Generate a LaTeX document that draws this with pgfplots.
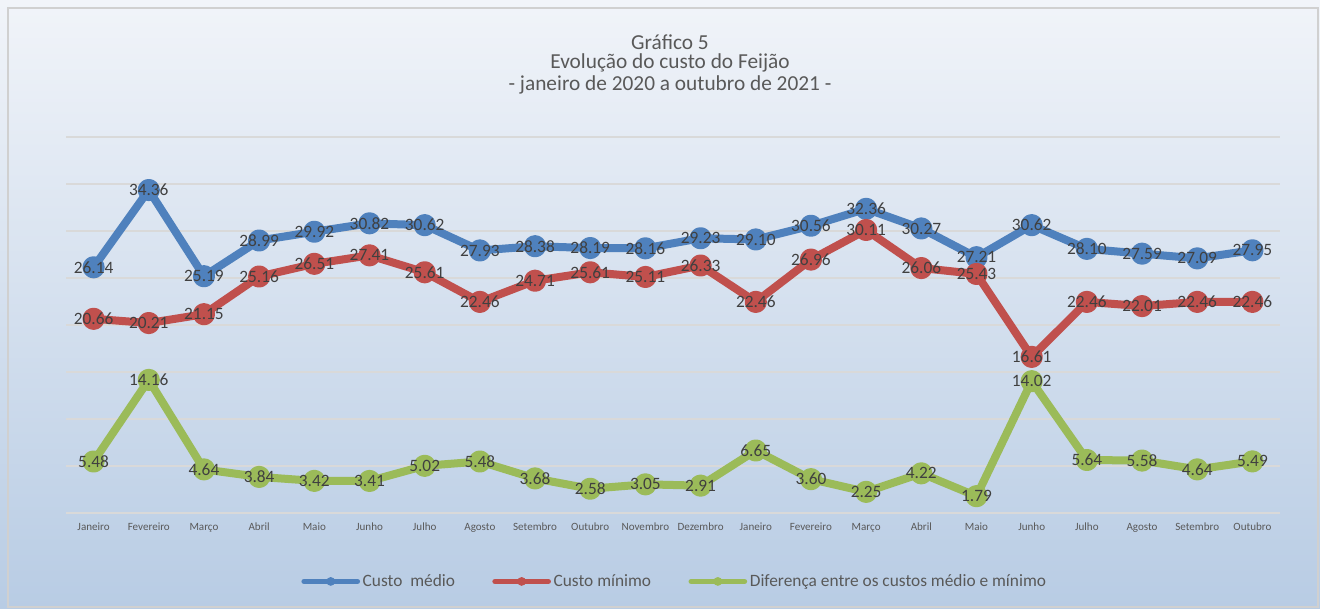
\documentclass[border=0pt]{standalone}
\usepackage{pgfplots}
\usepackage{pgfplotstable}
\pgfplotsset{compat=1.18}
\usepackage{fontspec}
\setmainfont{Carlito}
\definecolor{cblue}{HTML}{4F81BD}
\definecolor{cred}{HTML}{C0504D}
\definecolor{cgreen}{HTML}{9BBB59}
\definecolor{bgtop}{HTML}{F1F4F9}
\definecolor{bgbot}{HTML}{B8CCE4}
\definecolor{gridc}{HTML}{D9D9D9}
\definecolor{framec}{HTML}{D0D0D0}
\definecolor{titlec}{HTML}{595959}
\definecolor{labelc}{HTML}{404040}

\pgfplotstableread{
x medio minimo dif
0 26.14 20.66 5.48
1 34.36 20.21 14.16
2 25.19 21.15 4.64
3 28.99 25.16 3.84
4 29.92 26.51 3.42
5 30.82 27.41 3.41
6 30.62 25.61 5.02
7 27.93 22.46 5.48
8 28.38 24.71 3.68
9 28.19 25.61 2.58
10 28.16 25.11 3.05
11 29.23 26.33 2.91
12 29.10 22.46 6.65
13 30.56 26.96 3.60
14 32.36 30.11 2.25
15 30.27 26.06 4.22
16 27.21 25.43 1.79
17 30.62 16.61 14.02
18 28.10 22.46 5.64
19 27.59 22.01 5.58
20 27.09 22.46 4.64
21 27.95 22.46 5.49
}\data

\newcommand{\legimg}[1]{\draw[#1, line width=4pt, line cap=round] (0pt,0pt) -- (40pt,0pt); \path[fill=#1, draw=none] (20pt,0pt) circle (3.3pt);}

\begin{document}
\begin{tikzpicture}[x=0.75pt,y=0.75pt]
\shade[top color=bgtop,bottom color=bgbot] (0,0) rectangle (1320,608);
\draw[framec,line width=1.2pt] (8,1) rectangle (1318,600);
\node[text=titlec,font=\fontsize{16}{18}\selectfont] at (670,566) {Gráfico 5};
\node[text=titlec,font=\fontsize{16}{18}\selectfont] at (670,545) {Evolução do custo do Feijão};
\node[text=titlec,font=\fontsize{16}{18}\selectfont] at (670,523) {- janeiro de 2020 a outubro de 2021 -};
\begin{axis}[
  at={(49.5pt,71.25pt)}, anchor=south west,
  scale only axis, width=910.5pt, height=282pt,
  xmin=-0.5, xmax=21.5, ymin=0, ymax=40,
  ytick={0,5,...,40}, yticklabels={},
  ymajorgrids, grid style={gridc, line width=1.5pt},
  axis line style={draw=none},
  major tick length=0pt,
  xtick={0,...,21},
  xticklabels={Janeiro,Fevereiro,Março,Abril,Maio,Junho,Julho,Agosto,Setembro,Outubro,Novembro,Dezembro,Janeiro,Fevereiro,Março,Abril,Maio,Junho,Julho,Agosto,Setembro,Outubro},
  xticklabel style={font=\fontsize{8.3}{9}\selectfont, text=titlec, yshift=-4pt},
  clip=false,
  nodes near coords={\pgfmathprintnumber[fixed,fixed zerofill,precision=2,assume math mode=true]{\pgfplotspointmeta}},
  every node near coord/.append style={anchor=center, font=\fontsize{13}{14}\selectfont, text=labelc},
  legend columns=3,
  legend style={at={(0.5017,-0.182)}, anchor=center, draw=none, fill=none,
    font=\fontsize{13}{15}\selectfont, text=titlec,
    /tikz/every even column/.append style={column sep=26pt}},
  every axis plot/.append style={line width=6pt, line join=round, mark=*, mark size=5.3pt, mark options={line width=0.4pt}},
]
\addplot[cblue, mark options={fill=cblue}, legend image code/.code={\legimg{cblue}}] table[x=x,y=medio]{\data};
\addlegendentry{Custo\ \ médio}
\addplot[cred, mark options={fill=cred}, legend image code/.code={\legimg{cred}}] table[x=x,y=minimo]{\data};
\addlegendentry{Custo mínimo}
\addplot[cgreen, mark options={fill=cgreen}, legend image code/.code={\legimg{cgreen}}] table[x=x,y=dif]{\data};
\addlegendentry{Diferença entre os custos médio e mínimo}
\end{axis}
\end{tikzpicture}
\end{document}
